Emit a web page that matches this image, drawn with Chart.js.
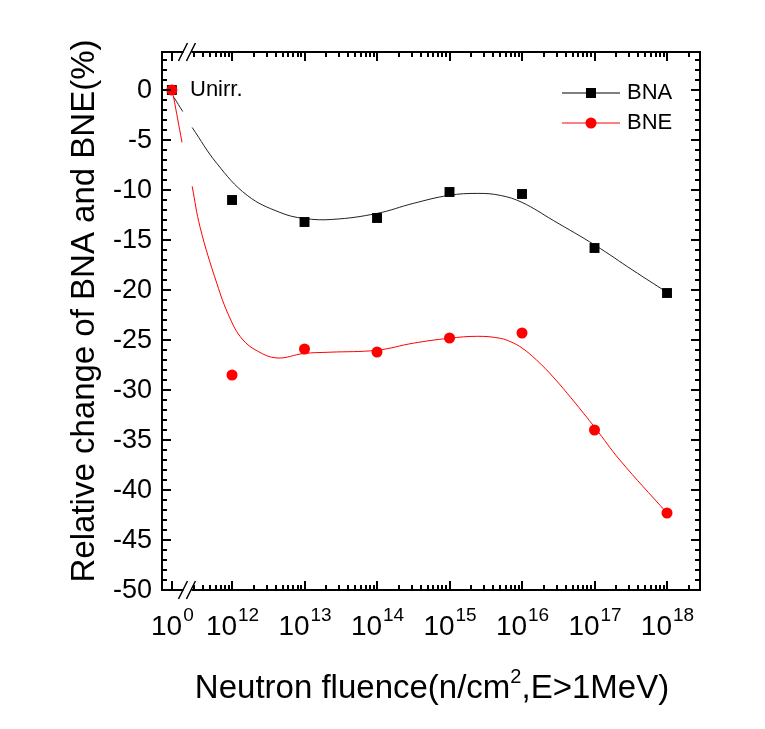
<!DOCTYPE html>
<html>
<head>
<meta charset="utf-8">
<script src="https://cdn.jsdelivr.net/npm/chart.js@4/dist/chart.umd.min.js"></script>
<style>
  body { margin: 0; background: #fff; }
  canvas { display: block; }
</style>
</head>
<body>
<canvas id="fluenceChart" width="765" height="729"></canvas>
<script>
// --- DATA ---
// fluence exponents (n/cm^2); 0 is the unirradiated sample shown left of the axis break
const fluenceExp = [0, 12, 13, 14, 15, 16, 17, 18];
const bnaChange = [0, -11.0, -13.2, -12.8, -10.2, -10.4, -15.8, -20.3];
const bneChange = [0, -28.5, -25.9, -26.2, -24.8, -24.3, -34.0, -42.3];

// smooth fit curves, sampled along the axis (null = gap at the axis break)
const bnaFitX = [11.20, 11.32, 11.38, 11.45, 11.79, 12.21, 12.66, 12.99, 13.39, 14.00, 14.50, 14.99, 15.39, 15.70, 16.00, 16.43, 17.01, 17.53, 18.00];
const bnaFitY = [-0.75, -2.15, null, -3.75, -7.34, -10.54, -12.24, -12.84, -12.94, -12.34, -11.34, -10.54, -10.34, -10.54, -11.24, -13.04, -15.53, -18.03, -20.23];
const bneFitX = [11.19, 11.31, 11.38, 11.45, 11.56, 11.79, 11.97, 12.14, 12.35, 12.62, 12.99, 13.35, 14.00, 14.50, 14.99, 15.39, 15.70, 15.85, 16.00, 16.20, 16.43, 16.70, 17.01, 17.35, 18.00];
const bneFitY = [-0.55, -5.24, null, -9.64, -13.74, -19.33, -22.8, -24.9, -26.1, -26.8, -26.35, -26.22, -26.02, -25.32, -24.83, -24.63, -24.83, -25.2, -25.8, -27.0, -28.7, -31.0, -33.8, -37.01, -42.31];

// tick labels
const yTickLabels = [0, -5, -10, -15, -20, -25, -30, -35, -40, -45, -50];
const xTickExp = ['0', '12', '13', '14', '15', '16', '17', '18'];

// --- AXIS LAYOUT ---
const UNIRR_POS = 11.17;          // where 10^0 sits, left of the break
const BREAK_FROM = 11.33, BREAK_TO = 11.44;
const X_MIN = 11.034, X_MAX = 18.455;
const Y_MIN = -50, Y_MAX = 3.8;
const FONT = "'Liberation Sans', Arial, sans-serif";

function axisPos(e) { return e < 12 ? UNIRR_POS : e; }
function toPoints(xs, ys) { return xs.map((x, i) => ({ x: x, y: ys[i] })); }

// Draws the framed axes, inward ticks, break marks, labels and legend.
const framePlugin = {
    id: 'frame',
    beforeDraw(chart) {
        const ctx = chart.ctx;
        ctx.save();
        ctx.fillStyle = '#fff';
        ctx.fillRect(0, 0, chart.width, chart.height);
        ctx.restore();
    },
    afterDraw(chart) {
        const { ctx, chartArea: a, scales: { x, y } } = chart;
        const bx1 = x.getPixelForValue(BREAK_FROM);
        const bx2 = x.getPixelForValue(BREAK_TO);
        ctx.save();
        ctx.strokeStyle = '#000';
        ctx.fillStyle = '#000';

        // frame
        ctx.lineWidth = 2;
        ctx.beginPath();
        ctx.moveTo(a.left, a.top); ctx.lineTo(a.left, a.bottom);
        ctx.moveTo(a.right, a.top); ctx.lineTo(a.right, a.bottom);
        [a.top, a.bottom].forEach(yy => {
            ctx.moveTo(a.left - 1, yy); ctx.lineTo(bx1, yy);
            ctx.moveTo(bx2, yy); ctx.lineTo(a.right + 1, yy);
        });
        ctx.stroke();

        // break marks
        ctx.lineWidth = 1.5;
        ctx.beginPath();
        [a.top, a.bottom].forEach(yy => {
            [bx1, bx2].forEach(bx => {
                ctx.moveTo(bx - 5, yy + 9);
                ctx.lineTo(bx + 4, yy - 9);
            });
        });
        ctx.stroke();

        // y ticks (left and right, pointing inward)
        ctx.lineWidth = 2;
        ctx.beginPath();
        for (let v = Y_MIN; v <= Y_MAX; v++) {
            const py = Math.round(y.getPixelForValue(v));
            const len = v % 5 === 0 ? 9 : 5;
            ctx.moveTo(a.left, py); ctx.lineTo(a.left + len, py);
            ctx.moveTo(a.right, py); ctx.lineTo(a.right - len, py);
        }
        ctx.stroke();

        // x ticks (bottom and top, pointing inward)
        ctx.beginPath();
        const xTick = (p, len) => {
            const px = Math.round(x.getPixelForValue(p));
            ctx.moveTo(px, a.bottom); ctx.lineTo(px, a.bottom - len);
            ctx.moveTo(px, a.top); ctx.lineTo(px, a.top + len);
        };
        fluenceExp.forEach(e => xTick(axisPos(e), 9));
        for (let dec = 11; dec <= 18; dec++) {
            for (let k = 2; k <= 9; k++) {
                const p = dec + Math.log10(k);
                if (p < BREAK_TO + 0.02 || p > X_MAX) continue;
                xTick(p, 5);
            }
        }
        ctx.stroke();

        // y tick labels
        ctx.font = '27px ' + FONT;
        ctx.textAlign = 'right';
        ctx.textBaseline = 'middle';
        yTickLabels.forEach(v => ctx.fillText(String(v), a.left - 10, y.getPixelForValue(v) + 1));

        // x tick labels: 10 with a raised exponent
        ctx.textAlign = 'left';
        ctx.textBaseline = 'alphabetic';
        fluenceExp.forEach((e, i) => {
            const px = x.getPixelForValue(axisPos(e));
            ctx.font = '28px ' + FONT;
            const wb = ctx.measureText('10').width;
            ctx.font = '19px ' + FONT;
            const we = ctx.measureText(xTickExp[i]).width;
            const start = px - (wb + we) / 2;
            ctx.font = '28px ' + FONT;
            ctx.fillText('10', start, a.bottom + 45);
            ctx.font = '19px ' + FONT;
            ctx.fillText(xTickExp[i], start + wb + 1, a.bottom + 31);
        });

        // y title
        ctx.save();
        ctx.translate(85, 311);
        ctx.rotate(-Math.PI / 2);
        ctx.font = '33px ' + FONT;
        ctx.textAlign = 'center';
        ctx.textBaseline = 'middle';
        ctx.fillText('Relative change of BNA and BNE(%)', 0, 0);
        ctx.restore();

        // x title with superscript 2
        const parts = [['Neutron fluence(n/cm', 33, 0], ['2', 20, -15], [',E>1MeV)', 33, 0]];
        let total = 0;
        parts.forEach(p => { ctx.font = p[1] + 'px ' + FONT; p.push(ctx.measureText(p[0]).width); total += p[3]; });
        let tx = 432 - total / 2;
        parts.forEach(p => {
            ctx.font = p[1] + 'px ' + FONT;
            ctx.fillText(p[0], tx, 698 + p[2]);
            tx += p[3];
        });

        // unirradiated label
        ctx.font = '22px ' + FONT;
        ctx.textBaseline = 'middle';
        ctx.fillText('Unirr.', 190, y.getPixelForValue(0));

        // legend
        const legend = [
            { label: 'BNA', color: '#000', style: 'rect', yy: 93 },
            { label: 'BNE', color: '#ff0000', style: 'circle', yy: 123 },
        ];
        legend.forEach(item => {
            ctx.strokeStyle = item.color;
            ctx.fillStyle = item.color;
            ctx.lineWidth = 1;
            ctx.beginPath();
            ctx.moveTo(562, item.yy); ctx.lineTo(620, item.yy);
            ctx.stroke();
            if (item.style === 'rect') {
                ctx.fillRect(586, item.yy - 5, 10, 10);
            } else {
                ctx.beginPath();
                ctx.arc(591, item.yy, 5.5, 0, Math.PI * 2);
                ctx.fill();
            }
            ctx.fillStyle = '#000';
            ctx.font = '22px ' + FONT;
            ctx.fillText(item.label, 627, item.yy);
        });

        ctx.restore();
    }
};

const ctx = document.getElementById('fluenceChart').getContext('2d');
new Chart(ctx, {
    type: 'scatter',
    data: {
        datasets: [
            {
                label: 'BNE',
                data: fluenceExp.map((e, i) => ({ x: axisPos(e), y: bneChange[i] })),
                pointStyle: 'circle', pointRadius: 5.5,
                backgroundColor: '#ff0000', borderColor: '#ff0000', borderWidth: 0,
                order: 0,
            },
            {
                label: 'BNA',
                data: fluenceExp.map((e, i) => ({ x: axisPos(e), y: bnaChange[i] })),
                pointStyle: 'rect', pointRadius: 7,
                backgroundColor: '#000', borderColor: '#000', borderWidth: 0,
                order: 1,
            },
            {
                label: 'BNA fit',
                data: toPoints(bnaFitX, bnaFitY),
                showLine: true, pointRadius: 0, borderColor: '#222', borderWidth: 1,
                tension: 0.4, spanGaps: false,
                order: 2,
            },
            {
                label: 'BNE fit',
                data: toPoints(bneFitX, bneFitY),
                showLine: true, pointRadius: 0, borderColor: '#ff0000', borderWidth: 1,
                tension: 0.4, spanGaps: false,
                order: 3,
            },
        ],
    },
    options: {
        responsive: false,
        animation: false,
        devicePixelRatio: 1,
        layout: { padding: { left: 162, top: 52, right: 65, bottom: 139 } },
        plugins: { legend: { display: false }, tooltip: { enabled: false } },
        scales: {
            x: { type: 'linear', min: X_MIN, max: X_MAX, display: false },
            y: { type: 'linear', min: Y_MIN, max: Y_MAX, display: false },
        },
    },
    plugins: [framePlugin],
});
</script>
</body>
</html>
